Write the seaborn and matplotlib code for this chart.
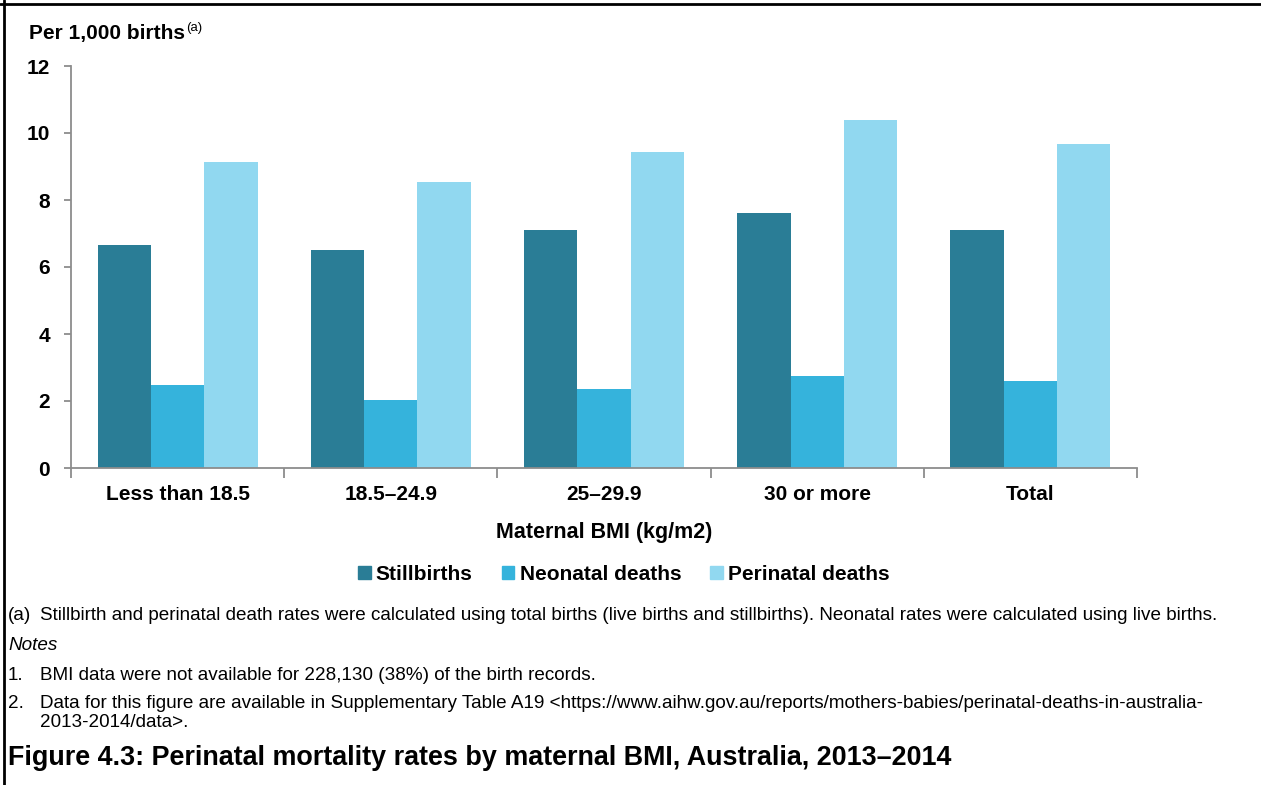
import pandas as pd
import numpy as np
import matplotlib.pyplot as plt
import seaborn as sns
from matplotlib.lines import Line2D

# Data
categories = ["Less than 18.5", "18.5\u201324.9", "25\u201329.9", "30 or more", "Total"]
stillbirths = [6.67, 6.52, 7.09, 7.62, 7.09]
neonatal = [2.47, 2.02, 2.35, 2.74, 2.59]
perinatal = [9.14, 8.55, 9.44, 10.39, 9.68]
series = ["Stillbirths", "Neonatal deaths", "Perinatal deaths"]
colors = ["#2A7D96", "#35B3DC", "#91D8F0"]

df = pd.DataFrame({
    "bmi": categories * 3,
    "series": np.repeat(series, len(categories)),
    "rate": stillbirths + neonatal + perinatal,
})

sns.set_theme(style="white")
plt.rcParams["font.family"] = ["Liberation Sans", "DejaVu Sans"]
plt.rcParams["text.color"] = "black"
plt.rcParams["axes.labelcolor"] = "black"

W, H = 1261, 785
fig = plt.figure(figsize=(W / 100, H / 100), dpi=100)
ax = fig.add_axes([71 / W, 1 - 468 / H, (1137 - 71) / W, (468 - 66) / H])

sns.barplot(data=df, x="bmi", y="rate", hue="series", palette=colors,
            width=0.75, gap=0, saturation=1, linewidth=0, ax=ax, legend=False)

# -----------------------------
# Axes styling
# -----------------------------
grey = "#8c8c8c"
ax.set_xlim(-0.5, len(categories) - 0.5)
ax.set_ylim(0, 12)
ax.set_yticks(range(0, 13, 2))
for s in ["top", "right"]:
    ax.spines[s].set_visible(False)
for s in ["left", "bottom"]:
    ax.spines[s].set_color(grey)
    ax.spines[s].set_linewidth(1.3)

ax.tick_params(axis="y", length=5, width=1.3, color=grey, labelcolor="black",
               direction="out", labelsize=15, pad=10, left=True)
ax.tick_params(axis="x", which="major", length=0, labelsize=15, pad=12,
               labelcolor="black")
ax.set_xticks(np.arange(-0.5, len(categories)), minor=True)
ax.tick_params(axis="x", which="minor", length=7, width=1.3, color=grey,
               direction="out", bottom=True)
for lab in ax.get_xticklabels() + ax.get_yticklabels():
    lab.set_fontweight("bold")

ax.set_ylabel("")
ax.set_xlabel("Maternal BMI (kg/m2)", fontsize=15.5, fontweight="bold", labelpad=13)

# y-axis title with superscript
t = fig.text(29 / W, 1 - 33 / H, "Per 1,000 births", fontsize=15,
             fontweight="bold", va="center", ha="left")
fig.canvas.draw()
bb = t.get_window_extent(fig.canvas.get_renderer())
fig.text(bb.x1 / W + 0.0008, 1 - 28 / H, "(a)", fontsize=9.5, va="center", ha="left")

# Legend
handles = [plt.Rectangle((0, 0), 1, 1, color=c) for c in colors]
fig.legend(handles, series, loc="center", bbox_to_anchor=(624 / W, 1 - 574 / H),
           ncol=3, frameon=False, handlelength=0.6, handleheight=0.6,
           handletextpad=0.25, columnspacing=1.4,
           prop={"size": 15, "weight": "bold"})

# -----------------------------
# Footnotes
# -----------------------------
fs = 13.6


def note(y, label, body, **kw):
    if label:
        fig.text(8 / W, 1 - y / H, label, fontsize=fs, va="baseline", **kw)
    if body:
        fig.text(40 / W, 1 - y / H, body, fontsize=fs, va="baseline", **kw)


note(620, "(a)",
     "Stillbirth and perinatal death rates were calculated using total births "
     "(live births and stillbirths). Neonatal rates were calculated using live births.")
note(650, "Notes", None, style="italic")
note(680, "1.", "BMI data were not available for 228,130 (38%) of the birth records.")
note(708, "2.", "Data for this figure are available in Supplementary Table A19 "
     "<https://www.aihw.gov.au/reports/mothers-babies/perinatal-deaths-in-australia-")
note(727, None, "2013-2014/data>.")

fig.text(8 / W, 1 - 765 / H,
         "Figure 4.3: Perinatal mortality rates by maternal BMI, Australia, 2013\u20132014",
         fontsize=19.4, fontweight="bold", va="baseline")

# Frame lines (top and left)
fig.add_artist(Line2D([0, 1], [1 - 4 / H, 1 - 4 / H], color="black", lw=2,
                      transform=fig.transFigure))
fig.add_artist(Line2D([4 / W, 4 / W], [0, 1], color="black", lw=2,
                      transform=fig.transFigure))

fig.savefig("out.png", dpi=100)
